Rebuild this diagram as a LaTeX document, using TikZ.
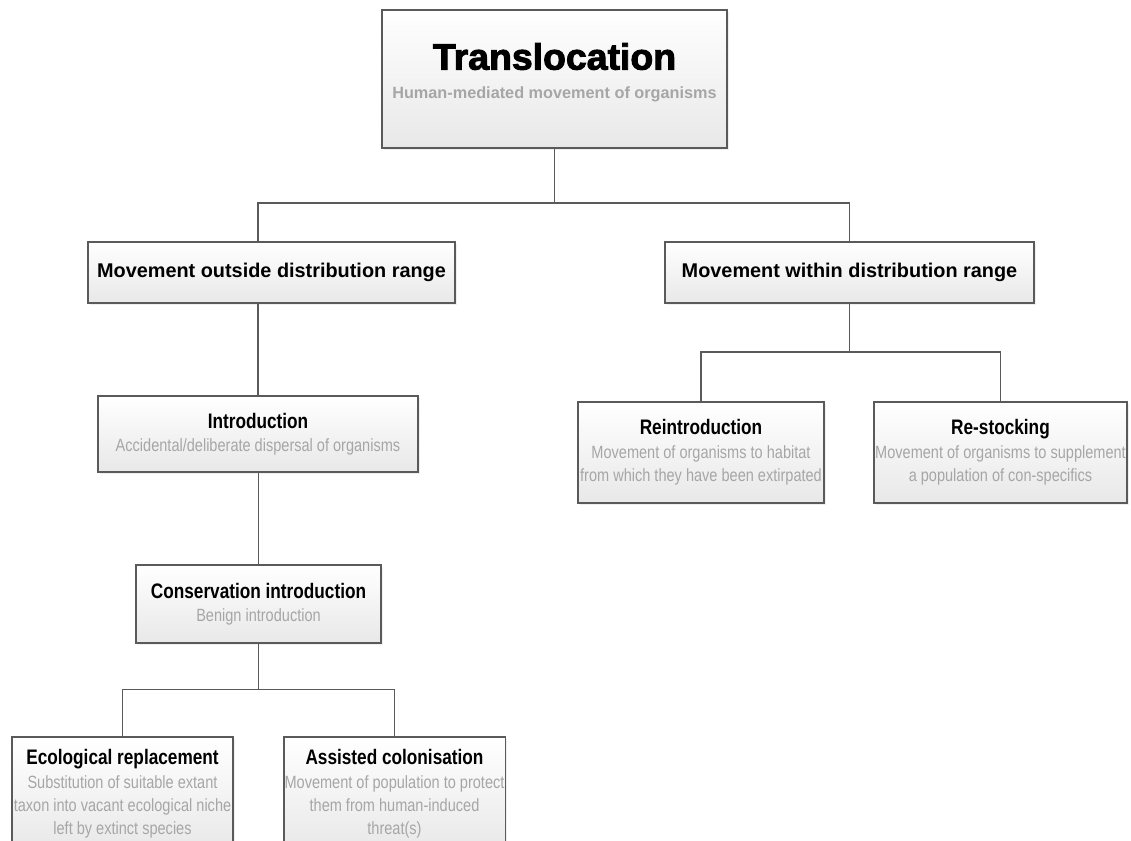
\documentclass[tikz,border=0pt]{standalone}
\usepackage{fontspec}
\setmainfont{Liberation Sans}
\newfontfamily\narrowfont{Liberation Sans}[FakeStretch=0.82]
\newfontfamily\heavyfont{Liberation Sans}[FakeStretch=1.02,FakeBold=2.6]
\usepackage{tikz}
\usetikzlibrary{shadows}
\definecolor{boxline}{HTML}{5A5A5A}
\definecolor{subgrey}{HTML}{A6A6A6}
\definecolor{boxbottom}{HTML}{E8E8E8}
\newcommand{\boxtitle}[1]{{\color{black}\bfseries\fontsize{15.75}{17.5}\selectfont #1}}

\begin{document}
\begin{tikzpicture}[x=0.75pt,y=-0.75pt,
        box/.style={draw=boxline, line width=0.9pt, top color=white, bottom color=boxbottom,
            drop shadow={shadow xshift=1.5pt, shadow yshift=-1.5pt, fill=black!12},
            align=center, inner sep=0.5pt, text=subgrey,
            font=\narrowfont\fontsize{13.3}{17.5}\selectfont},
        rangebox/.style={box, minimum height=45.75pt, text=black,
            font=\bfseries\fontsize{14.9}{18}\selectfont},
        link/.style={draw=boxline, line width=0.9pt}]
            \useasboundingbox (0,0) rectangle (1131,841);
            \node[box, minimum width=258.75pt, minimum height=103.5pt,
                font=\bfseries\fontsize{12.2}{14}\selectfont] (top) at (554.5,79)
                {{\heavyfont\fontsize{27.5}{30}\selectfont\color{black}Translocation}\\[8pt]Human-mediated movement of organisms\\[-2pt]\mbox{}};
            \node[rangebox, minimum width=275.25pt] (out) at (271.5,272.5) {Movement outside distribution range};
            \node[rangebox, minimum width=276.75pt] (within) at (849.5,272.5) {Movement within distribution range};
            \node[box, minimum width=240pt, minimum height=57pt] (intro) at (258,434)
                {\boxtitle{Introduction}\\Accidental/deliberate dispersal of organisms};
            \node[box, minimum width=184.5pt, minimum height=75.75pt] (reint) at (701,452.5)
                {\boxtitle{Reintroduction}\\Movement of organisms to habitat\\from which they have been extirpated};
            \node[box, minimum width=189.75pt, minimum height=75.75pt] (restock) at (1000.5,452.5)
                {\boxtitle{Re-stocking}\\Movement of organisms to supplement\\a population of con-specifics};
            \node[box, minimum width=183.75pt, minimum height=58.5pt] (cons) at (258.5,604)
                {\boxtitle{Conservation introduction}\\Benign introduction};
            \node[box, minimum width=165.75pt, minimum height=85.5pt] (eco) at (122.5,794)
                {\boxtitle{Ecological replacement}\\Substitution of suitable extant\\taxon into vacant ecological niche\\left by extinct species};
            \node[box, minimum width=165.75pt, minimum height=85.5pt] (assist) at (394.5,794)
                {\boxtitle{Assisted colonisation}\\Movement of population to protect\\them from human-induced\\threat(s)};
            \coordinate (bus1) at (554.5,203);
            \coordinate (bus2) at (849.5,352);
            \coordinate (bus3) at (258.5,689.5);
            \draw[link] (top.south) -- (bus1);
            \draw[link] (intro.north |- out.north) |- (bus1) -| (within.north);
            \draw[link] (intro.north) -- (intro.north |- out.south);
            \draw[link] (within.south) -- (bus2);
            \draw[link] (reint.north) |- (bus2) -| (restock.north);
            \draw[link] (cons.north) -- (cons.north |- intro.south);
            \draw[link] (cons.south) -- (bus3);
            \draw[link] (eco.north) |- (bus3) -| (assist.north);
        \end{tikzpicture}
\end{document}
